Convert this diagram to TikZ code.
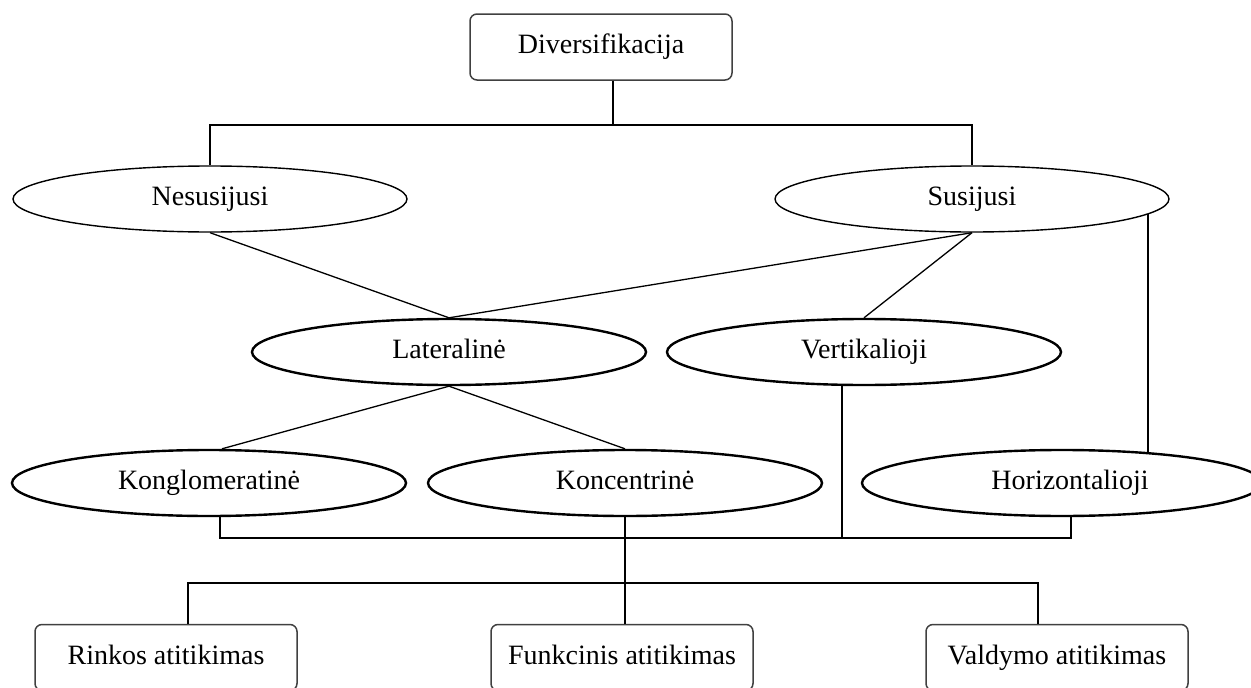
\documentclass[tikz,border=0pt]{standalone}
\usepackage{fontspec}
\setmainfont{Liberation Serif}
\usetikzlibrary{shapes.geometric}
\begin{document}
\begin{tikzpicture}[x=1pt,y=-1pt,
  every node/.style={font=\fontsize{28}{30}\selectfont, text height=19pt, text depth=6pt, inner sep=0pt},
  roundbox/.style={draw=black!75, line width=1.5pt, rounded corners=7pt,
    minimum width=262pt, minimum height=66pt, fill=white},
  thinell/.style={ellipse, draw, line width=1.4pt, minimum width=394pt,
    minimum height=66pt, fill=white},
  thickell/.style={ellipse, draw, line width=2.4pt, minimum width=394pt,
    minimum height=66pt, fill=white},
  link/.style={line width=1.3pt}]
\useasboundingbox (0,0) rectangle (1251,688);

% top level
\node[roundbox] (div) at (601,47) {Diversifikacija};

% related / unrelated
\node[thinell] (nes) at (210,199) {Nesusijusi};
\node[thinell] (sus) at (972,199) {Susijusi};

% middle row
\node[thickell] (lat)  at (449,352) {Lateralinė};
\node[thickell] (vert) at (864,352) {Vertikalioji};

% lower row
\node[thickell] (kong)  at (209,483) {Konglomeratinė};
\node[thickell] (konc)  at (625,483) {Koncentrinė};
\node[thickell, minimum width=400pt] (horiz) at (1062,483) {\hspace*{16pt}Horizontalioji};

% bottom boxes
\node[roundbox] (rink) at (166,657.5) {Rinkos atitikimas};
\node[roundbox] (funk) at (622,657.5) {Funkcinis atitikimas};
\node[roundbox] (vald) at (1057,657.5) {Valdymo atitikimas};

% connectors
\coordinate (topbus) at (613,125);
\coordinate (bus) at (625,538);
\coordinate (botbus) at (625,583);

\draw[link] ([xshift=12pt]div.south) -- (topbus);
\draw[link] (nes.north) |- (topbus) -| (sus.north);

\draw[link] (nes.south) -- (lat.north);
\draw[link] (sus.south) -- (lat.north);
\draw[link] (sus.south) -- (vert.north);
\draw[link] (sus.-5) -- (sus.-5 |- horiz.19.4);

\draw[link] (lat.south) -- ([xshift=13pt]kong.north);
\draw[link] (lat.south) -- (konc.north);

\draw[link] ([xshift=11pt]kong.south) |- (bus) -| ([xshift=9pt]horiz.south);
\draw[link] ([xshift=-22pt]vert.south) -- ([xshift=-22pt]vert.south |- bus);
\draw[link] (konc.south) -- (konc.south |- funk.north);

\draw[link] ([xshift=22pt]rink.north) |- (botbus) -| ([xshift=-19pt]vald.north);
\end{tikzpicture}
\end{document}
